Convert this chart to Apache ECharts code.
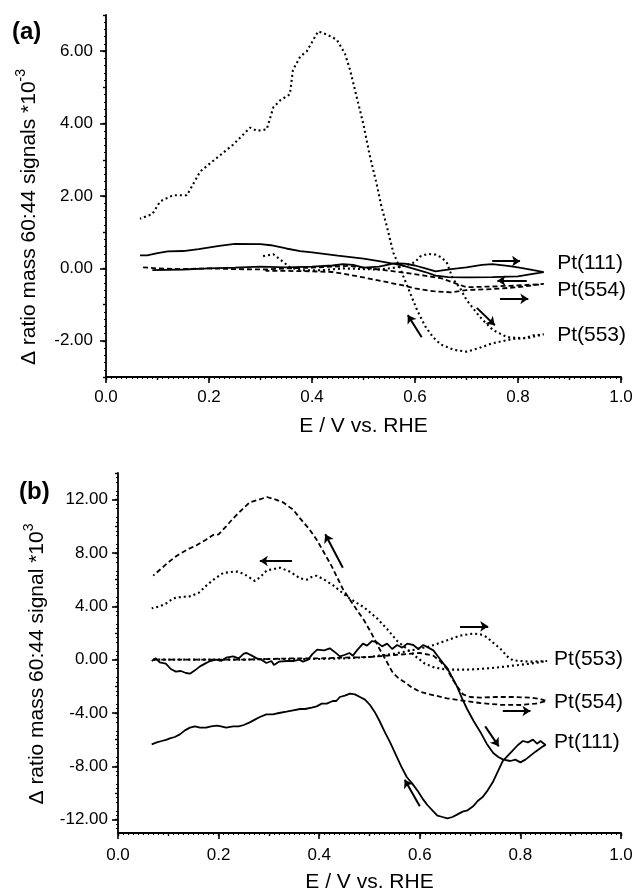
<!DOCTYPE html>
<html><head><meta charset="utf-8">
<script src="https://cdn.jsdelivr.net/npm/echarts@6/dist/echarts.min.js"></script>
<style>html,body{margin:0;padding:0;background:#fff}#c{width:636px;height:896px}</style>
</head><body><div id="c"></div>
<script>
// ---------- Panel (a) data: [E (V vs RHE), delta ratio *1e-3] ----------
const a111 = [[0.09,-0.05],[0.15,-0.03],[0.2,0.0],[0.25,0.02],[0.3,0.05],[0.35,0.03],[0.4,0.05],[0.44,0.08],[0.46,0.12],[0.48,0.1],[0.5,0.02],[0.53,0.05],[0.56,0.14],[0.58,0.13],[0.6,0.08],[0.62,0.0],[0.64,-0.08],[0.67,-0.02],[0.7,0.03],[0.73,0.1],[0.75,0.12],[0.78,0.07],[0.8,0.03],[0.83,-0.05],[0.85,-0.1],
  [0.82,-0.17],[0.8,-0.22],[0.75,-0.24],[0.7,-0.25],[0.665,-0.24],[0.64,-0.2],[0.62,-0.1],[0.6,-0.02],[0.58,0.06],[0.565,0.11],[0.53,0.2],[0.5,0.27],[0.45,0.35],[0.4,0.44],[0.377,0.48],[0.35,0.55],[0.32,0.64],[0.3,0.67],[0.25,0.68],[0.22,0.62],[0.18,0.53],[0.15,0.48],[0.12,0.47],[0.1,0.42],[0.08,0.36],[0.066,0.36]];
const a554 = [[0.072,0.03],[0.1,0.0],[0.15,-0.02],[0.2,0.0],[0.25,-0.02],[0.31,-0.03],[0.35,0.0],[0.4,0.02],[0.44,0.05],[0.47,0.07],[0.5,0.02],[0.53,-0.03],[0.57,-0.1],[0.61,-0.18],[0.65,-0.27],[0.68,-0.42],[0.7,-0.52],[0.75,-0.5],[0.8,-0.47],[0.85,-0.43],
  [0.8,-0.52],[0.75,-0.57],[0.7,-0.6],[0.67,-0.66],[0.635,-0.63],[0.6,-0.55],[0.57,-0.45],[0.535,-0.35],[0.5,-0.25],[0.47,-0.17],[0.44,-0.1],[0.4,-0.08],[0.35,-0.07],[0.31,-0.07]];
const a553 = [[0.305,0.34],[0.325,0.39],[0.345,0.17],[0.357,0.03],[0.38,-0.05],[0.42,-0.05],[0.46,0.0],[0.5,-0.02],[0.53,-0.03],[0.56,0.02],[0.58,0.08],[0.6,0.17],[0.61,0.33],[0.625,0.4],[0.64,0.38],[0.652,0.3],[0.662,0.15],[0.674,-0.3],[0.687,-0.53],[0.7,-0.87],[0.726,-1.34],[0.751,-1.7],[0.779,-1.9],[0.81,-1.93],[0.83,-1.85],[0.85,-1.82],
  [0.82,-1.92],[0.79,-1.95],[0.75,-2.07],[0.72,-2.22],[0.7,-2.3],[0.675,-2.25],[0.65,-2.1],[0.635,-1.9],[0.62,-1.6],[0.604,-1.15],[0.594,-0.8],[0.584,-0.45],[0.571,0.0],[0.558,0.43],[0.545,1.18],[0.535,1.7],[0.526,2.3],[0.512,3.13],[0.5,3.97],[0.487,4.72],[0.474,5.48],[0.464,5.93],[0.448,6.32],[0.429,6.46],[0.412,6.55],[0.402,6.3],[0.39,6.0],[0.377,5.85],[0.363,5.48],[0.357,4.81],[0.338,4.64],[0.325,4.45],[0.312,3.84],[0.293,3.8],[0.28,3.89],[0.247,3.42],[0.215,3.05],[0.183,2.68],[0.157,2.02],[0.13,2.02],[0.105,1.85],[0.09,1.5],[0.08,1.45],[0.066,1.37]];

// ---------- Panel (b) data ----------
const b111 = [[0.067,-0.1],[0.075,0.1],[0.083,-0.2],[0.095,-0.3],[0.105,-0.7],[0.115,-0.9],[0.125,-0.85],[0.135,-1.0],[0.143,-1.05],[0.153,-0.8],[0.163,-0.5],[0.173,-0.3],[0.183,-0.1],[0.195,0.0],[0.205,-0.1],[0.215,0.15],[0.229,0.25],[0.24,0.1],[0.25,0.45],[0.256,0.5],[0.266,0.3],[0.276,0.1],[0.285,0.0],[0.295,-0.25],[0.305,-0.1],[0.31,-0.4],[0.32,-0.15],[0.336,-0.1],[0.35,-0.1],[0.36,0.0],[0.368,-0.15],[0.378,0.0],[0.386,0.4],[0.396,0.75],[0.41,0.7],[0.421,0.85],[0.43,0.6],[0.441,0.25],[0.45,0.35],[0.46,0.5],[0.467,0.3],[0.475,0.7],[0.487,1.2],[0.495,1.05],[0.505,1.4],[0.515,1.3],[0.525,1.0],[0.535,1.2],[0.545,0.8],[0.555,1.1],[0.565,0.9],[0.575,1.2],[0.587,1.1],[0.597,0.8],[0.607,1.1],[0.617,0.9],[0.627,0.7],[0.637,0.2],[0.647,-0.3],[0.654,-0.6],[0.664,-1.3],[0.674,-2.0],[0.684,-2.9],[0.694,-3.7],[0.707,-4.6],[0.72,-5.4],[0.733,-6.3],[0.746,-7.0],[0.756,-7.3],[0.766,-7.5],[0.78,-7.6],[0.79,-7.5],[0.8,-7.7],[0.81,-7.5],[0.82,-7.2],[0.83,-6.9],[0.845,-6.5],[0.85,-6.4],
  [0.84,-6.1],[0.833,-6.3],[0.825,-6.0],[0.815,-6.2],[0.805,-6.1],[0.795,-6.4],[0.785,-6.8],[0.775,-7.2],[0.765,-7.6],[0.755,-8.4],[0.745,-9.2],[0.735,-9.8],[0.725,-10.3],[0.715,-10.6],[0.706,-11.0],[0.695,-11.3],[0.685,-11.4],[0.675,-11.6],[0.665,-11.8],[0.655,-11.9],[0.645,-11.8],[0.635,-11.7],[0.625,-11.3],[0.615,-10.9],[0.607,-10.5],[0.595,-9.8],[0.585,-9.3],[0.574,-8.8],[0.563,-8.0],[0.552,-7.1],[0.541,-6.2],[0.53,-5.4],[0.52,-4.6],[0.51,-3.9],[0.501,-3.4],[0.491,-3.0],[0.481,-2.8],[0.471,-2.6],[0.461,-2.55],[0.451,-2.7],[0.441,-2.8],[0.434,-3.1],[0.427,-3.1],[0.415,-3.3],[0.405,-3.3],[0.395,-3.5],[0.385,-3.6],[0.372,-3.7],[0.362,-3.7],[0.348,-3.8],[0.335,-3.9],[0.32,-4.0],[0.308,-4.1],[0.295,-4.1],[0.282,-4.3],[0.272,-4.5],[0.262,-4.7],[0.25,-4.9],[0.24,-5.0],[0.229,-5.0],[0.215,-5.1],[0.205,-5.0],[0.197,-4.95],[0.185,-5.0],[0.175,-5.1],[0.163,-5.1],[0.153,-5.0],[0.143,-5.1],[0.133,-5.3],[0.123,-5.6],[0.113,-5.8],[0.103,-5.9],[0.097,-6.0],[0.087,-6.1],[0.077,-6.2],[0.067,-6.35]];
const b554 = [[0.07,0.0],[0.1,0.0],[0.15,0.0],[0.2,0.0],[0.25,0.0],[0.3,0.05],[0.35,0.1],[0.4,0.1],[0.45,0.15],[0.5,0.2],[0.55,0.35],[0.6,0.5],[0.627,0.3],[0.64,-0.1],[0.654,-0.7],[0.664,-1.4],[0.674,-2.0],[0.686,-2.6],[0.7,-2.8],[0.72,-2.85],[0.75,-2.8],[0.79,-2.8],[0.82,-2.85],[0.84,-2.95],[0.852,-3.1],
  [0.83,-3.3],[0.8,-3.4],[0.76,-3.38],[0.72,-3.25],[0.69,-3.1],[0.654,-2.9],[0.62,-2.6],[0.6,-2.4],[0.585,-2.1],[0.57,-1.7],[0.555,-1.3],[0.545,-0.9],[0.535,-0.2],[0.52,0.8],[0.505,1.9],[0.49,2.9],[0.47,4.0],[0.447,5.3],[0.425,7.0],[0.41,8.0],[0.395,9.0],[0.38,9.8],[0.362,10.6],[0.348,11.25],[0.328,11.8],[0.31,12.05],[0.296,12.2],[0.28,12.0],[0.262,11.8],[0.245,11.2],[0.229,10.6],[0.215,10.0],[0.2,9.4],[0.189,9.35],[0.175,9.0],[0.157,8.6],[0.14,8.3],[0.117,7.8],[0.1,7.3],[0.085,6.8],[0.07,6.3]];
const b553 = [[0.07,0.0],[0.1,0.0],[0.15,0.0],[0.2,0.0],[0.25,0.0],[0.3,0.05],[0.35,0.05],[0.4,0.05],[0.45,0.1],[0.5,0.2],[0.55,0.45],[0.59,0.75],[0.62,1.0],[0.654,1.45],[0.68,1.8],[0.706,1.96],[0.72,1.9],[0.733,1.7],[0.745,1.3],[0.76,0.83],[0.775,0.2],[0.785,-0.05],[0.8,-0.1],[0.82,-0.15],[0.853,-0.1],
  [0.82,-0.3],[0.785,-0.45],[0.75,-0.6],[0.72,-0.7],[0.69,-0.75],[0.654,-0.75],[0.63,-0.6],[0.61,-0.3],[0.59,0.3],[0.575,0.8],[0.555,1.4],[0.535,2.3],[0.515,3.1],[0.49,3.9],[0.46,4.6],[0.44,5.2],[0.427,5.6],[0.41,6.0],[0.395,6.3],[0.385,6.2],[0.376,6.0],[0.362,6.1],[0.342,6.6],[0.322,6.9],[0.31,6.8],[0.296,6.7],[0.283,6.2],[0.272,5.9],[0.256,6.3],[0.24,6.6],[0.229,6.6],[0.209,6.5],[0.19,6.0],[0.177,5.6],[0.16,5.0],[0.143,4.75],[0.125,4.7],[0.11,4.6],[0.095,4.2],[0.083,4.0],[0.067,3.85]];

// ---------- annotations ----------
const arrowsA = [[0.75,0.2,0.804,0.2],[0.817,-0.34,0.76,-0.34],[0.765,-0.84,0.82,-0.84],[0.72,-1.09,0.755,-1.57],[0.613,-1.9,0.586,-1.29]];
const arrowsB = [[0.346,7.4,0.282,7.4],[0.447,6.9,0.412,9.4],[0.68,2.5,0.736,2.5],[0.765,-3.85,0.82,-3.85],[0.73,-5.0,0.757,-6.5],[0.6,-11.0,0.57,-9.0]];
const labelsA = [[0.876,0.14,'Pt(111)'],[0.876,-0.59,'Pt(554)'],[0.876,-1.85,'Pt(553)']];
const labelsB = [[0.867,0.0,'Pt(553)'],[0.867,-3.2,'Pt(554)'],[0.867,-6.2,'Pt(111)']];
const yTicksA = [-2,0,2,4,6];
const yTicksB = [-12,-8,-4,0,4,8,12];
const yMidB = [-12,-10,-8,-6,-4,-2,0,2,4,6,8,10,12,14];

const FF = '"Liberation Sans", Arial, sans-serif';
const chart = echarts.init(document.getElementById('c'), null, {renderer:'canvas'});
const blk = '#000';

function xMain(g,margin){return {gridIndex:g,type:'value',min:0,max:1,interval:0.2,position:'bottom',
  axisLine:{onZero:false,lineStyle:{color:blk,width:1.8}},axisTick:{length:6,lineStyle:{color:blk,width:1.6}},
  axisLabel:{color:blk,fontSize:17,fontFamily:FF,margin,formatter:v=>v.toFixed(1)},splitLine:{show:false},
  name:'E / V vs. RHE',nameLocation:'middle',nameGap:39,nameTextStyle:{color:blk,fontSize:21,fontFamily:FF}};}
function xMinor(g){return {gridIndex:g,type:'value',min:0,max:1,interval:0.1,position:'bottom',
  axisLine:{show:false,onZero:false},axisLabel:{show:false},axisTick:{length:3,lineStyle:{color:blk,width:1.4}},
  minorTick:{show:true,splitNumber:10,length:2,lineStyle:{color:blk,width:1}},splitLine:{show:false}};}
function lineS(name,data,xi,yi,kind){
  const ls={color:blk,width:1.8,type:'solid'};
  if(kind==='dot'){ls.type=[2,3];ls.width=2.1;}
  if(kind==='dash'){ls.type=[5,3];ls.width=1.8;}
  return {type:'line',name,data,xAxisIndex:xi,yAxisIndex:yi,symbol:'none',showSymbol:false,lineStyle:ls,animation:false,z:3};
}
function arrowS(arr,xi,yi){
  return {type:'lines',coordinateSystem:'cartesian2d',xAxisIndex:xi,yAxisIndex:yi,symbol:['none','arrow'],symbolSize:[0,8],
    lineStyle:{color:blk,width:2,opacity:1},data:arr.map(a=>({coords:[[a[0],a[1]],[a[2],a[3]]]})),animation:false,z:4};
}
function labelS(arr,xi,yi){
  return {type:'scatter',xAxisIndex:xi,yAxisIndex:yi,symbolSize:0,data:arr,animation:false,silent:true,z:5,
    label:{show:true,position:'right',distance:0,color:blk,fontSize:21,fontFamily:FF,opacity:1,formatter:p=>p.value[2]}};
}
function rich(pad){return {b:{fontSize:21,fontFamily:FF,color:blk,lineHeight:26,verticalAlign:'bottom'},s:{fontSize:14,fontFamily:FF,color:blk,lineHeight:26,verticalAlign:'top'},p:{width:pad}};}

const option = {
  backgroundColor:'#fff',
  animation:false,
  title:[
    {text:'(a)',left:7,top:15,textStyle:{fontSize:24,fontWeight:'bold',color:blk,fontFamily:FF}},
    {text:'(b)',left:14,top:475,textStyle:{fontSize:24,fontWeight:'bold',color:blk,fontFamily:FF}}
  ],
  grid:[
    {left:106,right:15,top:15,height:362,containLabel:false},
    {left:118,right:15,top:473,height:360,containLabel:false}
  ],
  xAxis:[xMain(0,12),xMinor(0),xMain(1,14),xMinor(1)],
  yAxis:[
    {gridIndex:0,type:'value',min:-3,max:7,position:'left',offset:0,
      axisLine:{show:true,onZero:false,lineStyle:{color:blk,width:1.8}},
      axisTick:{show:true,length:6,customValues:yTicksA,lineStyle:{color:blk,width:1.6}},
      axisLabel:{color:blk,fontSize:17,fontFamily:FF,margin:13,customValues:yTicksA,formatter:v=>v.toFixed(2)},
      splitLine:{show:false},
      name:'{b|Δ ratio mass 60:44 signals *10}{s|-3}{p|}',nameLocation:'middle',nameGap:66,nameRotate:90,
      nameTextStyle:{color:blk,fontFamily:FF,rich:rich(42)}},
    {gridIndex:0,type:'value',min:-3,max:7,interval:1,position:'left',offset:0,
      axisLine:{show:false,onZero:false},axisLabel:{show:false},axisTick:{length:3,lineStyle:{color:blk,width:1.4}},
      minorTick:{show:true,splitNumber:5,length:2,lineStyle:{color:blk,width:1}},splitLine:{show:false}},
    {gridIndex:1,type:'value',min:-13,max:14,position:'left',offset:0,
      axisLine:{show:true,onZero:false,lineStyle:{color:blk,width:1.8}},
      axisTick:{show:true,length:6,customValues:yTicksB,lineStyle:{color:blk,width:1.6}},
      axisLabel:{color:blk,fontSize:17,fontFamily:FF,margin:10,customValues:yTicksB,formatter:v=>v.toFixed(2)},
      splitLine:{show:false},
      name:'{b|Δ ratio mass 60:44 signal *10}{s|3}{p|}',nameLocation:'middle',nameGap:70,nameRotate:90,
      nameTextStyle:{color:blk,fontFamily:FF,rich:rich(22)}},
    {gridIndex:1,type:'value',min:-13,max:14,interval:1,position:'left',offset:0,
      axisLine:{show:false,onZero:false},axisLabel:{show:false},
      axisTick:{length:3,customValues:yMidB,lineStyle:{color:blk,width:1.4}},
      minorTick:{show:true,splitNumber:3,length:2,lineStyle:{color:blk,width:1}},splitLine:{show:false}}
  ],
  series:[
    lineS('Pt(111)',a111,0,0,'solid'),
    lineS('Pt(554)',a554,0,0,'dash'),
    lineS('Pt(553)',a553,0,0,'dot'),
    arrowS(arrowsA,0,0),
    labelS(labelsA,0,0),
    lineS('Pt(111) b',b111,2,2,'solid'),
    lineS('Pt(554) b',b554,2,2,'dash'),
    lineS('Pt(553) b',b553,2,2,'dot'),
    arrowS(arrowsB,2,2),
    labelS(labelsB,2,2)
  ]
};
chart.setOption(option);
</script></body></html>
